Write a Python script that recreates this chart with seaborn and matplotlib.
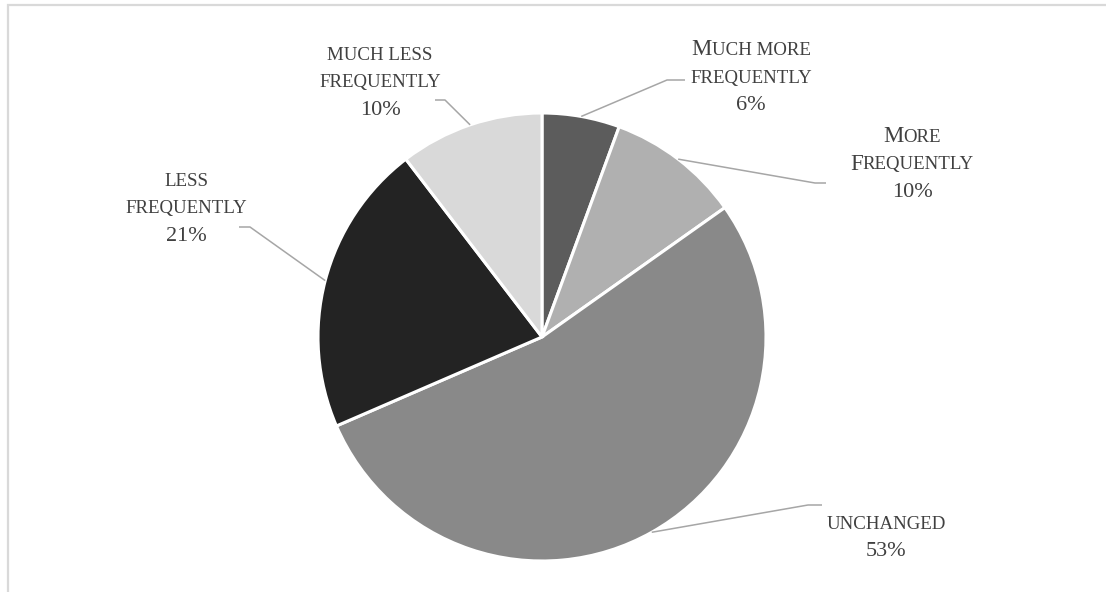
import matplotlib
matplotlib.use("Agg")
import matplotlib.pyplot as plt
import seaborn as sns
import numpy as np

# ---- data ----
# label text in "small caps" encoding: uppercase letters are full capitals,
# lowercase letters are drawn as small capitals
categories = ["Much more\nfrequently", "More\nFrequently", "unchanged",
              "less\nfrequently", "much less\nfrequently"]
shares = [5.6, 9.6, 53.3, 21.1, 10.4]
colors = ["#5c5c5c", "#b0b0b0", "#898989", "#232323", "#d9d9d9"]

# ---- layout (pixel positions, top-left origin) ----
W, H = 1106, 592
pie_center = (542, 337)
pie_radius = 224
# label block: centre x, first baseline y
label_pos = [(751, 55), (912, 142), (886, 529), (186, 186), (380, 60)]
# leader line: elbow and end points
leader_pts = [((667, 80), (685, 80)),
              ((815, 183), (826, 183)),
              ((808, 505), (822, 505)),
              ((250, 227), (239, 227)),
              ((445, 100), (435, 100))]
line_step = 27.5
big_size, small_size, pct_size = 16.5, 13.6, 16
text_color = "#404040"

sns.set_theme(style="white")
plt.rcParams["font.family"] = ["Liberation Serif", "DejaVu Serif"]

fig = plt.figure(figsize=(W / 100, H / 100), dpi=100)
ax = fig.add_axes([0, 0, 1, 1])

def fy(y):
    return H - y

wedges, _ = ax.pie(shares, colors=colors, startangle=90, counterclock=False,
                   center=(pie_center[0], fy(pie_center[1])), radius=pie_radius,
                   wedgeprops=dict(edgecolor="white", linewidth=2.2))
ax.set_xlim(0, W)
ax.set_ylim(0, H)
ax.set_aspect("auto")
ax.axis("off")

# chart-area border (light grey, open to the right/bottom)
ax.plot([8, 8, W + 10], [-10, fy(5), fy(5)], color="#d9d9d9", lw=1.6,
        clip_on=False, solid_joinstyle="miter")

fig.canvas.draw()
renderer = fig.canvas.get_renderer()

def runs_for(line):
    runs = []
    for ch in line:
        size = big_size if ch.isupper() else small_size
        c = ch.upper()
        if runs and runs[-1][1] == size:
            runs[-1][0] += c
        else:
            runs.append([c, size])
    return runs

def draw_line(runs, cx, y):
    widths = []
    for s, size in runs:
        t = ax.text(0, 0, s, fontsize=size)
        widths.append(t.get_window_extent(renderer).width)
        t.remove()
    x = cx - sum(widths) / 2
    for (s, size), w in zip(runs, widths):
        ax.text(x, fy(y), s, fontsize=size, color=text_color,
                ha="left", va="baseline")
        x += w

for i, (w, cat, v) in enumerate(zip(wedges, categories, shares)):
    mid = np.deg2rad((w.theta1 + w.theta2) / 2)
    cx, cy = w.center
    sx, sy = cx + w.r * np.cos(mid), cy + w.r * np.sin(mid)
    (ex, ey), (tx, ty) = leader_pts[i]
    ax.plot([sx, ex, tx], [sy, fy(ey), fy(ty)], color="#a6a6a6", lw=1.1,
            solid_capstyle="butt")
    lx, ly = label_pos[i]
    lines = cat.split("\n")
    for j, ln in enumerate(lines):
        draw_line(runs_for(ln), lx, ly + j * line_step)
    pct = f"{round(v):.0f}%"
    draw_line([[pct, pct_size]], lx, ly + len(lines) * line_step)

fig.savefig("out.png", dpi=100)
